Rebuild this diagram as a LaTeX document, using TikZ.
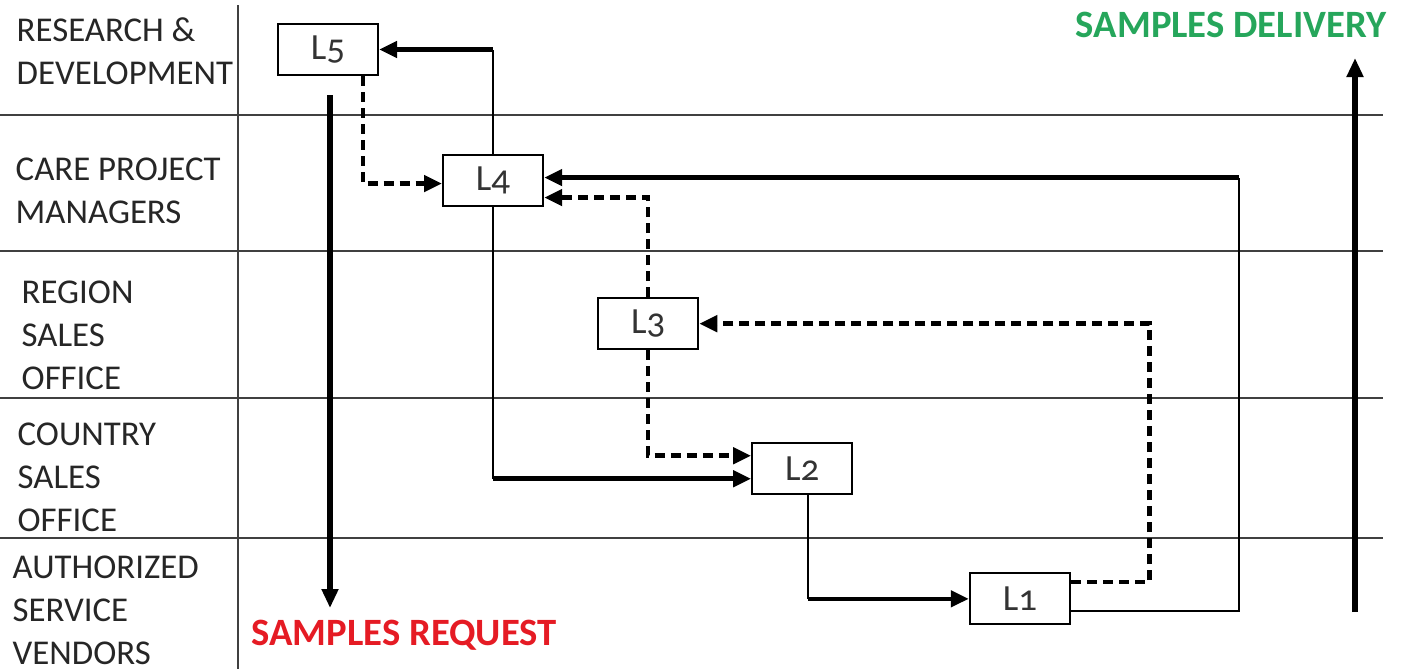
\documentclass[tikz,border=0pt]{standalone}
\usepackage{fontspec}
\setmainfont{Carlito}
\newfontfamily\boxfont[Numbers=OldStyle]{Carlito}
\usepackage{tikz}
\usetikzlibrary{positioning}
\usetikzlibrary{calc}
\usetikzlibrary{arrows.meta}

\definecolor{reqred}{RGB}{229,27,36}
\definecolor{delgreen}{RGB}{38,166,91}

\tikzset{
  lane/.style={anchor=west, align=left, inner sep=0pt, text=black!85, font=\fontsize{9.9}{12.2}\selectfont},
  lbox/.style={draw, line width=0.6pt, minimum width=1cm, minimum height=0.51cm, inner sep=0pt, text=black!80, font=\boxfont\fontsize{10.5}{12}\selectfont},
  sep/.style={line width=0.5pt, black!75},
  thinline/.style={line width=0.5pt},
  arrowline/.style={line width=1.3pt, -{Triangle[length=1.8mm, width=1.6mm]}},
  dashline/.style={line width=1.3pt, dash pattern=on 1mm off 0.6mm, -{Triangle[length=1.8mm, width=1.6mm]}},
  bigarrow/.style={line width=1.6pt, -{Triangle[length=1.9mm, width=1.6mm]}},
  flowlabel/.style={inner sep=0pt, font=\bfseries\fontsize{11}{13}\selectfont}
}

\begin{document}
\begin{tikzpicture}[x=0.01cm, y=-0.01cm]
    \useasboundingbox (0,0) rectangle (1401,669);

    % lanes
    \foreach \y in {115,251,398,538}
      \draw[sep] (0,\y) -- (1383,\y);
    \draw[sep] (238,5) -- (238,669);

    \node[lane] (rd) at (16,51) {RESEARCH \&\\DEVELOPMENT};
    \node[lane] (cpm) at (15,191) {CARE PROJECT\\MANAGERS};
    \node[lane] (rso) at (21,335) {REGION\\SALES\\OFFICE};
    \node[lane] (cso) at (17,477) {COUNTRY\\SALES\\OFFICE};
    \node[lane] (asv) at (12,610) {AUTHORIZED\\SERVICE\\VENDORS};

    % levels
    \node[lbox] (L5) at (328,49.5) {L5};
    \node[lbox, on grid, below right=1.31cm and 1.65cm of L5] (L4) {L4};
    \node[lbox, on grid, below right=1.43cm and 1.55cm of L4] (L3) {L3};
    \node[lbox, on grid, below right=1.45cm and 1.54cm of L3] (L2) {L2};
    \node[lbox, on grid, below right=1.30cm and 2.175cm of L2] (L1) {L1};

    \coordinate (L4inA) at ($(L4.west)+(0,3)$);
    \coordinate (L4inB) at ($(L4.east)+(0,-3)$);
    \coordinate (L4inC) at ($(L4.east)+(0,17)$);
    \coordinate (L2inA) at ($(L2.west)+(0,-13)$);
    \coordinate (L2inB) at ($(L2.west)+(0,10)$);
    \coordinate (L1outA) at ($(L1.east)+(0,-17)$);
    \coordinate (L1outB) at ($(L1.east)+(0,12)$);
    \coordinate (L2down) at ($(L2.south)+(6,0)$);
    \coordinate (backup) at ($(L4inB)+(695,0)$);

    % request path
    \draw[thinline] (L4.south) -- (L4.south |- L2inB);
    \draw[arrowline] (L4.south |- L2inB) -- (L2inB);
    \draw[thinline] (L2down) -- (L2down |- L1.west);
    \draw[arrowline] (L2down |- L1.west) -- (L1.west);

    % escalation
    \draw[dashline] ($(L5.south)+(35,0)$) |- (L4inA);
    \draw[dashline] (L3.north) |- (L4inC);
    \draw[dashline] (L3.south) |- (L2inA);
    \draw[dashline] (L1outA) -| ($(L3.east)+(450,0)$) -- (L3.east);

    % delivery path
    \draw[thinline] (L1outB) -| (backup);
    \draw[arrowline] (backup) -- (L4inB);
    \draw[thinline] (L4.north) -- (L4.north |- L5.east);
    \draw[arrowline] (L4.north |- L5.east) -- (L5.east);

    % main flows
    \coordinate (reqtop) at (330,95);
    \coordinate (reqend) at (330,608);
    \coordinate (delbot) at (1355,612);
    \coordinate (deltop) at (1355,58);
    \draw[bigarrow] (reqtop) -- (reqend);
    \draw[bigarrow] (delbot) -- (deltop);
    \node[flowlabel, text=reqred, anchor=west] (req) at (251,635) {SAMPLES REQUEST};
    \node[flowlabel, text=delgreen, anchor=east] (del) at (1387,25) {SAMPLES DELIVERY};
\end{tikzpicture}
\end{document}
